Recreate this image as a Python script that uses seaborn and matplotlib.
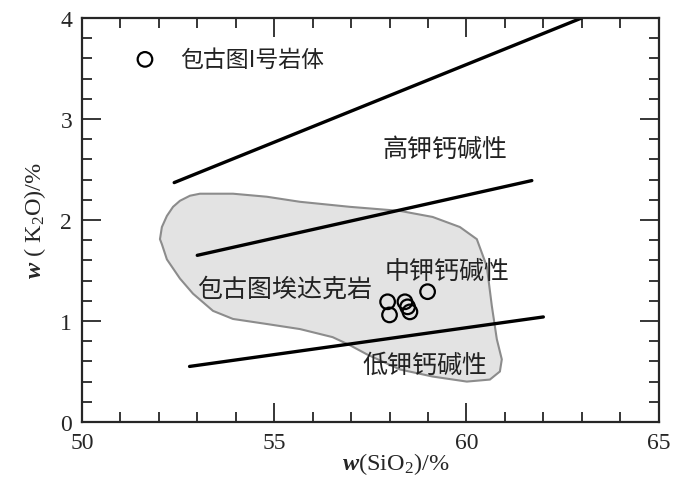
import matplotlib
matplotlib.use('Agg')
import numpy as np
import pandas as pd
import seaborn as sns
from matplotlib import pyplot as plt
from matplotlib.ticker import MultipleLocator

# 包古图I号岩体 样品点
sio2 = [57.95, 58.0, 58.4, 58.47, 58.53, 58.99]
k2o = [1.19, 1.06, 1.19, 1.14, 1.09, 1.29]

# 分界线 (起点, 终点)
line_names = ['high', 'mid', 'low']
line_x = [[52.4, 63.0], [53.0, 61.7], [52.8, 62.0]]
line_y = [[2.37, 4.0], [1.65, 2.39], [0.55, 1.04]]

# 包古图埃达克岩 范围
field_x = [52.03, 52.08, 52.21, 52.37, 52.55, 52.81, 53.07, 53.93, 54.81, 55.67, 56.97, 58.27,
           59.12, 59.83, 60.27, 60.53, 60.66, 60.79, 60.92, 60.87, 60.61, 60.01, 59.12, 58.27,
           57.41, 56.97, 56.52, 55.67, 54.81, 53.93, 53.41, 52.89, 52.55, 52.21, 52.08]
field_y = [1.81, 1.93, 2.04, 2.13, 2.19, 2.24, 2.26, 2.26, 2.23, 2.18, 2.13, 2.09,
           2.03, 1.93, 1.81, 1.54, 1.15, 0.82, 0.62, 0.50, 0.42, 0.40, 0.45, 0.52,
           0.67, 0.76, 0.84, 0.92, 0.97, 1.02, 1.10, 1.27, 1.42, 1.61, 1.76]

sns.set_style('ticks')
plt.rcParams['font.family'] = ['Liberation Serif', 'Noto Sans CJK SC', 'DejaVu Sans']
plt.rcParams['mathtext.fontset'] = 'custom'
plt.rcParams['mathtext.rm'] = 'Liberation Serif'
plt.rcParams['mathtext.it'] = 'Liberation Serif:italic'
plt.rcParams['mathtext.bf'] = 'Liberation Serif:bold'
plt.rcParams['mathtext.bfit'] = 'Liberation Serif:bold:italic'

fig = plt.figure(figsize=(7, 4.81), dpi=100)
ax = fig.add_axes([0.117, 0.1206, 0.824, 0.84])

ax.fill(field_x, field_y, facecolor='#e3e3e3', edgecolor='#8c8c8c', linewidth=1.5, zorder=1)

df_lines = pd.DataFrame({
    'x': [v for xs in line_x for v in xs],
    'y': [v for ys in line_y for v in ys],
    'line': [n for n in line_names for _ in range(2)],
})
sns.lineplot(data=df_lines, x='x', y='y', units='line', estimator=None, sort=False,
             color='black', linewidth=2.4, ax=ax, zorder=2)

df_pts = pd.DataFrame({'sio2': sio2, 'k2o': k2o})
sns.scatterplot(data=df_pts, x='sio2', y='k2o', marker='o', s=110, facecolor='none',
                edgecolor='black', linewidth=1.6, ax=ax, zorder=3)

# 图例
ax.scatter([51.64], [3.59], marker='o', s=110, facecolor='none', edgecolor='black', linewidth=1.6)
cjk = ['Noto Sans CJK SC', 'DejaVu Sans']
ax.text(52.55, 3.59, '包古图I号岩体', fontsize=16.5, va='center', ha='left', family=cjk,
        color='#222222', fontweight='light')

for label, lx, ly in [('高钾钙碱性', 59.44, 2.70), ('中钾钙碱性', 59.49, 1.50),
                      ('包古图埃达克岩', 55.26, 1.32), ('低钾钙碱性', 58.92, 0.57)]:
    ax.text(lx, ly, label, fontsize=18, va='center', ha='center', family=cjk,
            color='#222222', fontweight='light')

ax.set_xlim(50, 65)
ax.set_ylim(0, 4)
ax.xaxis.set_major_locator(MultipleLocator(5))
ax.xaxis.set_minor_locator(MultipleLocator(1))
ax.yaxis.set_major_locator(MultipleLocator(1))
ax.yaxis.set_minor_locator(MultipleLocator(0.2))
ax.tick_params(which='both', direction='in', top=True, right=True, width=1.3, labelsize=17)
ax.tick_params(which='major', length=13.5, pad=7)
ax.tick_params(which='minor', length=7)
for sp in ax.spines.values():
    sp.set_linewidth(1.6)
    sp.set_visible(True)

ax.set_xlabel(r'$\mathbfit{w}$(SiO$_2$)/%', fontsize=17.5)
ax.set_ylabel(r'$\mathbfit{w}$ ( K$_2$O)/%', fontsize=17.5)
ax.xaxis.set_label_coords(0.544, -0.07)
ax.yaxis.set_label_coords(-0.058, 0.5)

plt.savefig('out.png', dpi=100)
